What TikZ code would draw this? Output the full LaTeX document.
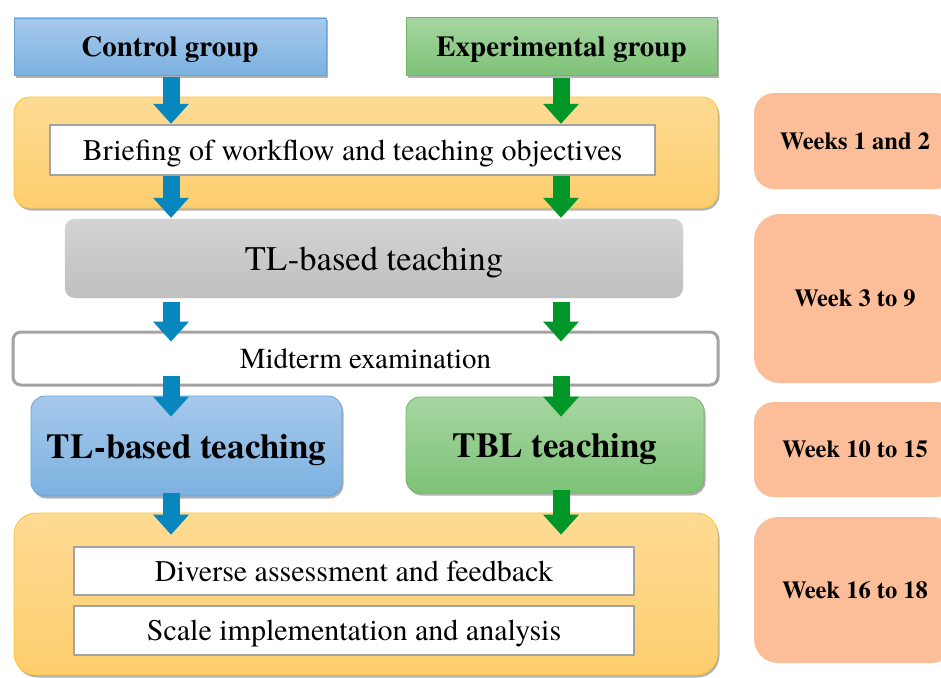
\documentclass[tikz,border=0pt]{standalone}
\usepackage{fontspec}
\setmainfont{TeX Gyre Termes}
\usetikzlibrary{positioning,arrows.meta,shadows}

\definecolor{ctrltop}{RGB}{166,201,236}
\definecolor{ctrlbot}{RGB}{124,177,224}
\definecolor{ctrledge}{RGB}{104,162,216}
\definecolor{expttop}{RGB}{166,214,160}
\definecolor{exptbot}{RGB}{126,194,120}
\definecolor{exptedge}{RGB}{118,180,100}
\definecolor{phasetop}{RGB}{254,219,148}
\definecolor{phasebot}{RGB}{253,206,110}
\definecolor{phaseedge}{RGB}{255,196,40}
\definecolor{greytop}{RGB}{212,212,212}
\definecolor{greybot}{RGB}{191,191,191}
\definecolor{stepedge}{RGB}{163,163,163}
\definecolor{weekfill}{RGB}{251,190,152}
\definecolor{arrblue}{RGB}{8,135,190}
\definecolor{arrgreen}{RGB}{0,150,40}

\begin{document}
\begin{tikzpicture}[x=1pt, y=-1pt, inner sep=0pt, text depth=0pt, node distance=391.5pt,
    shadowed/.style={drop shadow={shadow xshift=1.5pt, shadow yshift=-2.5pt, opacity=0.3, fill=black}},
    groupbox/.style={line width=0.8pt, shadowed, font=\fontsize{29}{32}\selectfont\bfseries},
    ctrlbox/.style={draw=ctrledge, top color=ctrltop, bottom color=ctrlbot},
    exptbox/.style={draw=exptedge, top color=expttop, bottom color=exptbot},
    phasebox/.style={draw=phaseedge, line width=0.8pt, top color=phasetop, bottom color=phasebot,
        minimum width=704pt, shadowed},
    stepbox/.style={draw=stepedge, line width=2.5pt, fill=white, font=\fontsize{30}{33}\selectfont},
    weekbox/.style={fill=weekfill, minimum width=202pt, rounded corners=20pt,
        font=\fontsize{24.5}{28}\selectfont\bfseries},
    bluearr/.style={line width=17pt, draw=arrblue, fill=arrblue,
        -{Triangle[width=36pt, length=20pt, line width=0pt]}},
    greenarr/.style={line width=17pt, draw=arrgreen, fill=arrgreen,
        -{Triangle[width=36pt, length=20pt, line width=0pt]}}]
  \fill[white] (0,0) rectangle (941,677);
  \path[use as bounding box, clip] (0,0) rectangle (941,677);

  % the two groups
  \node[groupbox, ctrlbox, minimum width=312pt, minimum height=57pt] (ctrl) at (170,46.5) {Control group};
  \node[groupbox, exptbox, minimum width=311pt, minimum height=58pt, right of=ctrl] (expt) {Experimental group};

  % weeks 1 and 2
  \node[phasebox, minimum height=111pt, rounded corners=16pt] (phaseA) at (366,152.5) {};
  \node[stepbox, minimum width=605pt, minimum height=50pt] (brief) at (352.5,150) {Briefing of workflow and teaching objectives};

  % weeks 3 to 9
  \node[top color=greytop, bottom color=greybot, draw=black!18, rounded corners=10pt,
        minimum width=618pt, minimum height=79pt, font=\fontsize{34.5}{38}\selectfont] (common) at (374,258.5) {TL-based teaching};
  \node[stepbox, line width=3pt, rounded corners=8pt, minimum width=705pt, minimum height=53pt,
        font=\fontsize{29}{32}\selectfont] (midterm) at (365.5,358.5) {Midterm examination};

  % weeks 10 to 15
  \node[groupbox, ctrlbox, rounded corners=14pt, minimum width=311pt, minimum height=100pt,
        font=\fontsize{35}{40}\selectfont\bfseries] (tl) at (186.5,446) {TL-based teaching};
  \node[groupbox, exptbox, rounded corners=14pt, minimum width=298pt, minimum height=96pt,
        font=\fontsize{35}{40}\selectfont\bfseries, right of=tl, node distance=368.5pt, yshift=1pt] (tbl) {TBL teaching};

  % weeks 16 to 18
  \node[phasebox, minimum height=162pt, rounded corners=22pt] (phaseB) at (366,594) {};
  \node[stepbox, minimum width=560pt, minimum height=48pt] (assess) at (354,571) {Diverse assessment and feedback};
  \node[stepbox, minimum width=560pt, minimum height=49pt] (scale) at (354,630.5) {Scale implementation and analysis};

  % time line
  \node[weekbox, minimum height=96pt] (wk1) at (855,141) {Weeks 1 and 2};
  \node[weekbox, minimum height=169pt, rounded corners=26pt] (wk3) at (855,298.5) {Week 3 to 9};
  \node[weekbox, minimum height=95pt] (wk10) at (855,449.5) {Week 10 to 15};
  \node[weekbox, minimum height=146pt, rounded corners=24pt] (wk16) at (855,590) {Week 16 to 18};

  % flow arrows
  \coordinate (lx) at (171,0);
  \coordinate (rx) at (561,0);
  \draw[bluearr] ([yshift=-2pt]lx |- ctrl.south) -- (lx |- brief.north);
  \draw[greenarr] ([yshift=-2pt]rx |- expt.south) -- (rx |- brief.north);
  \draw[bluearr] (lx |- brief.south) -- ([yshift=1pt]lx |- common.north);
  \draw[greenarr] (rx |- brief.south) -- ([yshift=1pt]rx |- common.north);
  \draw[bluearr] ([yshift=-4pt]lx |- common.south) -- ([yshift=-11pt]lx |- midterm.north);
  \draw[greenarr] ([yshift=-4pt]rx |- common.south) -- ([yshift=-11pt]rx |- midterm.north);
  \draw[bluearr] ([yshift=11pt]lx |- midterm.south) -- ([yshift=-21pt]lx |- tl.north);
  \draw[greenarr] ([yshift=11pt]rx |- midterm.south) -- ([yshift=-20pt]rx |- tbl.north);
  \draw[bluearr] ([yshift=3pt]lx |- tl.south) -- ([yshift=-22pt]lx |- phaseB.north);
  \draw[greenarr] ([yshift=3pt]rx |- tbl.south) -- ([yshift=-22pt]rx |- phaseB.north);
\end{tikzpicture}
\end{document}
